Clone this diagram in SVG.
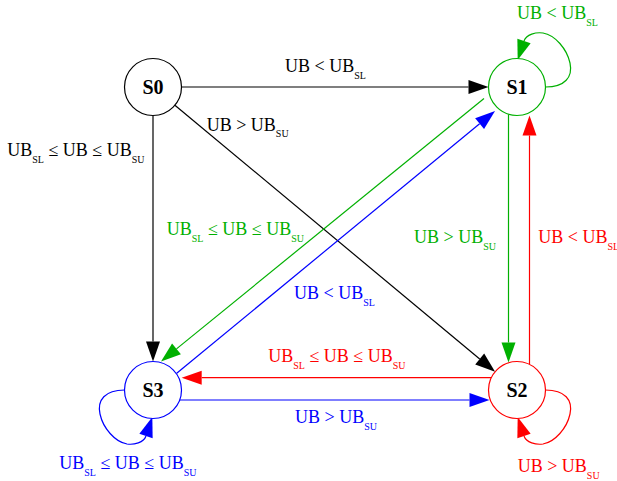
<svg xmlns="http://www.w3.org/2000/svg" width="617" height="481" viewBox="0 0 617 481">
<style>
.node circle{fill:#fff;stroke-width:1.2}
.nl{font-family:"Liberation Serif","Times New Roman",serif;font-size:20px;font-weight:bold;text-anchor:middle;fill:#000}
.e{fill:none;stroke-width:1.2}
.lbl{font-family:"Liberation Serif","Times New Roman",serif;font-size:18px}
.sub{font-size:10px}
.k{stroke:#000}.g{stroke:#00b000}.b{stroke:#0000ff}.r{stroke:#ff0000}
.tk{fill:#000}.tg{fill:#00b000}.tb{fill:#0000ff}.tr{fill:#ff0000}
</style>
<defs>
<marker id="ak" markerUnits="userSpaceOnUse" markerWidth="22" markerHeight="16" refX="0" refY="7" orient="auto" overflow="visible"><path d="M0,0 L20,7 L0,14 z" fill="#000"/></marker>
<marker id="ag" markerUnits="userSpaceOnUse" markerWidth="22" markerHeight="16" refX="0" refY="7" orient="auto" overflow="visible"><path d="M0,0 L20,7 L0,14 z" fill="#00b000"/></marker>
<marker id="ab" markerUnits="userSpaceOnUse" markerWidth="22" markerHeight="16" refX="0" refY="7" orient="auto" overflow="visible"><path d="M0,0 L20,7 L0,14 z" fill="#0000ff"/></marker>
<marker id="ar" markerUnits="userSpaceOnUse" markerWidth="22" markerHeight="16" refX="0" refY="7" orient="auto" overflow="visible"><path d="M0,0 L20,7 L0,14 z" fill="#ff0000"/></marker>
</defs>
<rect width="617" height="481" fill="#fff"/>
<g id="connectors">
<path class="e k" d="M181.5,87 L468.5,87" marker-end="url(#ak)"/>
<path class="e k" d="M153,115.5 L153,341.5" marker-end="url(#ak)"/>
<path class="e k" d="M174.9,105.2 L479.7,359" marker-end="url(#ak)"/>
<path class="e g" d="M484,98.5 L176.5,348.9" marker-end="url(#ag)"/>
<path class="e b" d="M176.7,373.3 L479.6,123.7" marker-end="url(#ab)"/>
<path class="e g" d="M508.5,114.2 L508.5,342.5" marker-end="url(#ag)"/>
<path class="e r" d="M529.5,364.4 L529.5,135.5" marker-end="url(#ar)"/>
<path class="e r" d="M491.3,377.7 L201.7,377.7" marker-end="url(#ar)"/>
<path class="e b" d="M179.7,400 L469.5,400" marker-end="url(#ab)"/>
<path class="e g" d="M545.5,87 C565,87 573,77 570,63 C567,49 555,35 543,33 C536,32 526.2,34.4 524,41" marker-end="url(#ag)"/>
<path class="e r" d="M545.5,390 C565,390 573,400 570,414 C567,428 555,442 543,444 C536,445 526.2,442.6 524,436" marker-end="url(#ar)"/>
<path class="e b" d="M124.5,390 C105,390 97,400 100,414 C103,428 115,442 127,444 C134,445 143.8,442.6 146,436" marker-end="url(#ab)"/>
<text class="lbl tk" x="285" y="72">UB &lt; UB<tspan class="sub" dy="7">SL</tspan></text>
<text class="lbl tk" x="206.7" y="130.5">UB &gt; UB<tspan class="sub" dy="6">SU</tspan></text>
<text class="lbl tk" x="7.3" y="156">UB<tspan class="sub" dy="7">SL</tspan><tspan dy="-7"> ≤ UB ≤ UB</tspan><tspan class="sub" dy="7">SU</tspan></text>
<text class="lbl tg" x="166.7" y="235">UB<tspan class="sub" dy="7">SL</tspan><tspan dy="-7"> ≤ UB ≤ UB</tspan><tspan class="sub" dy="7">SU</tspan></text>
<text class="lbl tb" x="294" y="299">UB &lt; UB<tspan class="sub" dy="7">SL</tspan></text>
<text class="lbl tg" x="414" y="242.7">UB &gt; UB<tspan class="sub" dy="7">SU</tspan></text>
<text class="lbl tr" x="538.3" y="242.7">UB &lt; UB<tspan class="sub" dy="7">SL</tspan></text>
<text class="lbl tr" x="268.3" y="361.7">UB<tspan class="sub" dy="7">SL</tspan><tspan dy="-7"> ≤ UB ≤ UB</tspan><tspan class="sub" dy="7">SU</tspan></text>
<text class="lbl tb" x="295" y="423.3">UB &gt; UB<tspan class="sub" dy="7">SU</tspan></text>
<text class="lbl tg" x="517" y="19">UB &lt; UB<tspan class="sub" dy="7">SL</tspan></text>
<text class="lbl tb" x="59.3" y="469.3">UB<tspan class="sub" dy="7">SL</tspan><tspan dy="-7"> ≤ UB ≤ UB</tspan><tspan class="sub" dy="7">SU</tspan></text>
<text class="lbl tr" x="517.7" y="471.7">UB &gt; UB<tspan class="sub" dy="7">SU</tspan></text>
</g>
<g id="S0" class="node"><circle cx="153" cy="87" r="28.5" stroke="#000"/><text class="nl" x="153" y="94">S0</text></g>
<g id="S1" class="node"><circle cx="517" cy="87" r="28.5" stroke="#00b000"/><text class="nl" x="517" y="94">S1</text></g>
<g id="S2" class="node"><circle cx="517" cy="390" r="28.5" stroke="#ff0000"/><text class="nl" x="517" y="397">S2</text></g>
<g id="S3" class="node"><circle cx="153" cy="390" r="28.5" stroke="#0000ff"/><text class="nl" x="153" y="397">S3</text></g>
</svg>
